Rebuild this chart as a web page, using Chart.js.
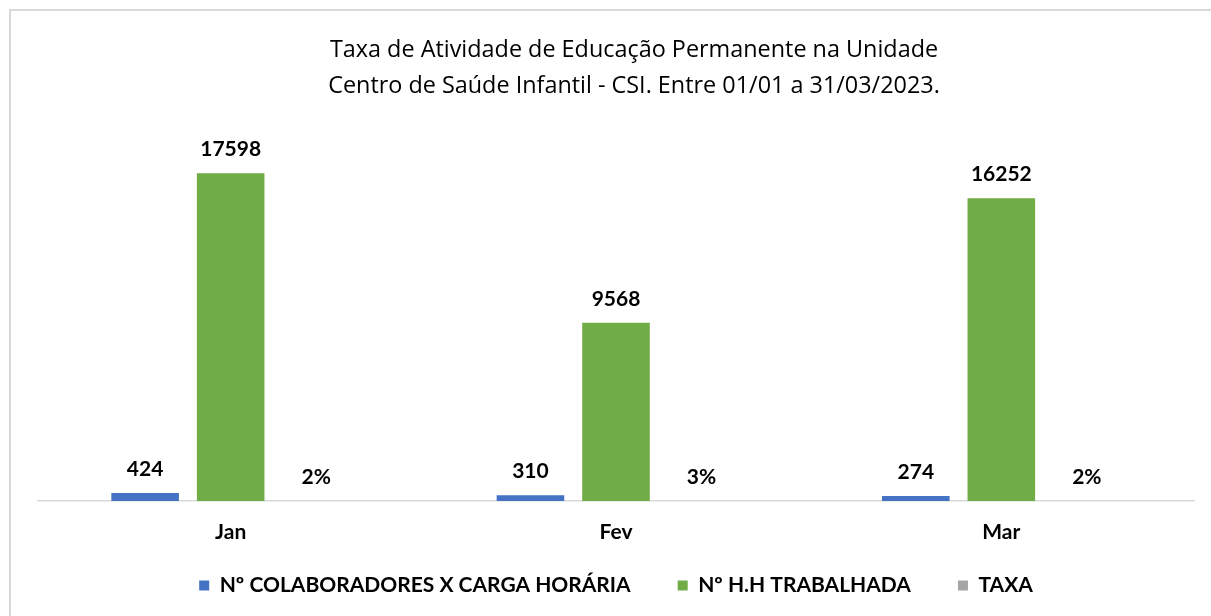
<!DOCTYPE html>
<html>
<head>
<meta charset="utf-8">
<script src="https://cdn.jsdelivr.net/npm/chart.js@4"></script>
<style>
  html, body { margin: 0; padding: 0; background: #fff; }
  #frame { position: absolute; left: 9px; top: 9px; width: 1210px; height: 615px; border: 2px solid #d9d9d9; box-sizing: border-box; }
  #wrap { position: absolute; left: 0; top: 0; width: 1211px; height: 616px; }
</style>
</head>
<body>
<div id="frame"></div>
<div id="wrap"><canvas id="chart" width="1211" height="616"></canvas></div>
<script>
// chart data
const months = ["Jan", "Fev", "Mar"];
const colaboradores = [424, 310, 274];
const horasTrabalhadas = [17598, 9568, 16252];
const taxa = [2, 3, 2]; // percent

// draws the value above every bar
const valueLabels = {
  id: "valueLabels",
  afterDatasetsDraw(chart) {
    const ctx = chart.ctx;
    ctx.save();
    ctx.font = "bold 21px Lato";
    ctx.fillStyle = "#000";
    ctx.textAlign = "center";
    ctx.textBaseline = "middle";
    chart.data.datasets.forEach((ds, i) => {
      const meta = chart.getDatasetMeta(i);
      meta.data.forEach((bar, j) => {
        const txt = ds.isPercent ? ds.data[j] + "%" : String(ds.data[j]);
        ctx.fillText(txt, bar.x, bar.y - 24);
      });
    });
    ctx.restore();
  }
};

const ctx = document.getElementById("chart").getContext("2d");
new Chart(ctx, {
  type: "bar",
  data: {
    labels: months,
    datasets: [
      {
        label: "Nº COLABORADORES X CARGA HORÁRIA",
        data: colaboradores,
        backgroundColor: "#4472C4",
      },
      {
        label: "Nº H.H TRABALHADA",
        data: horasTrabalhadas,
        backgroundColor: "#70AD47",
      },
      {
        label: "TAXA",
        data: taxa,
        isPercent: true,
        backgroundColor: "#A5A5A5",
      },
    ],
  },
  options: {
    responsive: false,
    animation: false,
    categoryPercentage: 0.666,
    barPercentage: 0.79,
    layout: {
      // negative right padding + empty right axis: title sits a bit right of the plot centre
      padding: { left: 38, right: -19, top: 0, bottom: 10 }
    },
    scales: {
      y: {
        position: "right",
        min: 0,
        max: 20000,
        grid: { display: false, drawTicks: false },
        border: { display: false },
        ticks: { display: false },
        afterFit(scale) { scale.width = 36; }
      },
      x: {
        grid: { display: false, drawTicks: false },
        border: { display: true, color: "#d9d9d9", width: 1.5 },
        ticks: {
          // mirror keeps the labels from being clipped by the short axis box
          mirror: true,
          padding: -44,
          color: "#000",
          font: { family: "Lato", size: 21, weight: "bold" }
        },
        afterFit(scale) { scale.height = 27; }
      }
    },
    plugins: {
      title: {
        display: true,
        text: [
          "Taxa de Atividade de Educação Permanente na Unidade",
          "Centro de Saúde Infantil - CSI. Entre 01/01 a 31/03/2023."
        ],
        color: "#000",
        font: { family: "Open Sans", size: 23.4, weight: "normal", lineHeight: 1.55 },
        padding: { top: 32, bottom: 24 }
      },
      legend: {
        position: "bottom",
        fullSize: false,
        labels: {
          boxWidth: 10,
          boxHeight: 10,
          padding: 47,
          color: "#000",
          font: { family: "Lato", size: 21, weight: "bold" }
        }
      },
      tooltip: { enabled: false }
    }
  },
  plugins: [valueLabels]
});
</script>
</body>
</html>
